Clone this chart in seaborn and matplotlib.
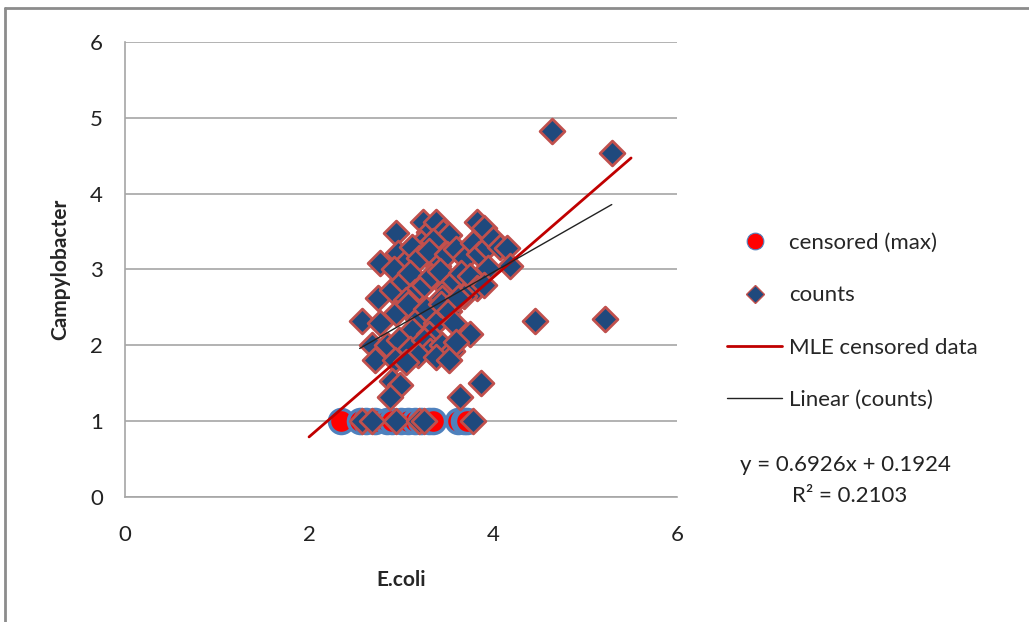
import numpy as np
import pandas as pd
import matplotlib
matplotlib.use("Agg")
import matplotlib.pyplot as plt
import seaborn as sns
from matplotlib.lines import Line2D

# log counts
counts_x = [2.95, 3.24, 3.30, 3.38, 3.46, 3.52, 3.83, 3.90, 3.22, 3.35,
            2.77, 2.97, 3.05, 3.12, 3.20, 3.30, 3.40, 3.50, 3.60, 3.70, 3.78, 3.85, 3.93, 4.00, 4.07, 4.15, 4.18, 3.95,
            2.75, 2.90, 2.92, 3.02, 3.10, 3.15, 3.25, 3.33, 3.42, 3.50, 3.58, 3.65, 3.75, 3.82, 3.90, 3.68, 3.45, 3.05,
            2.58, 2.77, 2.95, 3.08, 3.18, 3.27, 3.38, 3.43, 3.52, 3.62, 3.58, 3.75, 3.12, 3.30,
            2.68, 2.85, 2.98, 3.10, 3.25, 3.32, 3.45, 3.55, 3.60, 2.72, 2.93, 3.18, 3.05, 3.38, 3.52,
            2.90, 2.99, 2.88, 3.64, 3.87,
            4.64, 5.29, 4.46, 5.22,
            2.58, 2.68, 2.95, 3.20, 3.25, 3.78]
counts_y = [3.48, 3.62, 3.50, 3.63, 3.50, 3.45, 3.63, 3.55, 3.35, 3.38,
            3.08, 3.22, 3.10, 3.30, 3.15, 3.25, 3.05, 3.20, 3.27, 3.15, 3.35, 3.20, 3.30, 3.40, 3.30, 3.28, 3.05, 3.02,
            2.62, 2.73, 3.00, 2.85, 2.95, 2.70, 2.80, 2.92, 2.98, 2.75, 2.85, 2.95, 2.92, 2.75, 2.80, 2.65, 2.62, 2.60,
            2.32, 2.30, 2.42, 2.55, 2.35, 2.48, 2.30, 2.55, 2.45, 2.62, 2.30, 2.15, 2.20, 2.15,
            2.00, 2.00, 2.07, 1.95, 2.07, 1.92, 2.00, 1.93, 2.05, 1.80, 1.80, 1.87, 1.78, 1.85, 1.80,
            1.53, 1.48, 1.32, 1.32, 1.50,
            4.82, 4.53, 2.32, 2.35,
            1.00, 1.00, 1.00, 1.00, 1.00, 1.00]

# censored observations (max value)
cens_x = [2.35, 2.55, 2.62, 2.72, 2.85, 2.90, 3.00, 3.08, 3.15, 3.22, 3.30, 3.35, 3.62, 3.68, 3.72]
cens_y = [1.0] * len(cens_x)

# MLE fit on censored data
mle_range = [2.0, 5.5]
mle_slope, mle_icpt = 1.051, -1.31
# Excel linear trendline on counts
lin_slope, lin_icpt = 0.6926, 0.1924
eq_text = "y = 0.6926x + 0.1924"
r2_text = "R² = 0.2103"

counts = pd.DataFrame({"E.coli": counts_x, "Campylobacter": counts_y})
cens = pd.DataFrame({"E.coli": cens_x, "Campylobacter": cens_y})
mle = pd.DataFrame({"x": mle_range})
mle["y"] = mle_slope * mle["x"] + mle_icpt
lin = pd.DataFrame({"x": [2.55, max(counts_x)]})
lin["y"] = lin_slope * lin["x"] + lin_icpt

sns.set_style("white")
plt.rcParams["font.family"] = ["Lato", "DejaVu Sans"]

fig = plt.figure(figsize=(10.29, 6.22), dpi=100)
ax = fig.add_axes([0.1215, 0.201, 0.5365, 0.7315])

sns.scatterplot(data=cens, x="E.coli", y="Campylobacter", ax=ax, marker="o", s=300,
                color="#FF0000", edgecolor="#4F81BD", linewidth=2.5, zorder=3)
sns.scatterplot(data=counts, x="E.coli", y="Campylobacter", ax=ax, marker="D", s=160,
                color="#1F497D", edgecolor="#C0504D", linewidth=2, zorder=4)
sns.lineplot(data=mle, x="x", y="y", ax=ax, color="#C00000", linewidth=2, zorder=5)
sns.lineplot(data=lin, x="x", y="y", ax=ax, color="#222222", linewidth=1, zorder=6)

ax.set_xlim(0, 6)
ax.set_ylim(0, 6)
ax.set_xticks([0, 2, 4, 6])
ax.set_yticks(range(7))
ax.yaxis.grid(True, color="#A6A6A6", linewidth=1.2)
ax.xaxis.grid(False)
for s in ["top", "right"]:
    ax.spines[s].set_visible(False)
for s in ["left", "bottom"]:
    ax.spines[s].set_color("#A6A6A6")
    ax.spines[s].set_linewidth(1.2)
ax.tick_params(axis="both", which="major", direction="out", length=6, width=1,
               color="#A6A6A6", labelsize=16, labelcolor="#222222", pad=10)
ax.tick_params(axis="x", pad=14)
ax.set_xlabel("E.coli", fontsize=15, fontweight="bold", labelpad=18)
ax.set_ylabel("Campylobacter", fontsize=15, fontweight="bold", labelpad=14)

handles = [
    Line2D([], [], linestyle="none", marker="o", markersize=12, markerfacecolor="#FF0000",
           markeredgecolor="#4F81BD", markeredgewidth=0.8),
    Line2D([], [], linestyle="none", marker="D", markersize=9, markerfacecolor="#1F497D",
           markeredgecolor="#C0504D", markeredgewidth=1),
    Line2D([], [], color="#C00000", linewidth=2),
    Line2D([], [], color="#222222", linewidth=1),
]
labels = ["censored (max)", "counts", "MLE censored data", "Linear (counts)"]
ax.legend(handles, labels, loc="upper left", bbox_to_anchor=(1.09, 0.58), frameon=False,
          fontsize=16, handlelength=2.5, handletextpad=0.3, labelspacing=1.45,
          borderaxespad=0, borderpad=0)

fig.text(0.822, 0.252, eq_text, ha="center", va="center", fontsize=16, color="#222222")
fig.text(0.826, 0.202, r2_text, ha="center", va="center", fontsize=16, color="#222222")

# chart border
fig.add_artist(Line2D([0.005, 0.005], [0.0, 0.987], transform=fig.transFigure, color="#8C8C8C", linewidth=2))
fig.add_artist(Line2D([0.005, 1.0], [0.987, 0.987], transform=fig.transFigure, color="#8C8C8C", linewidth=2))

fig.savefig("out.png", dpi=100)
